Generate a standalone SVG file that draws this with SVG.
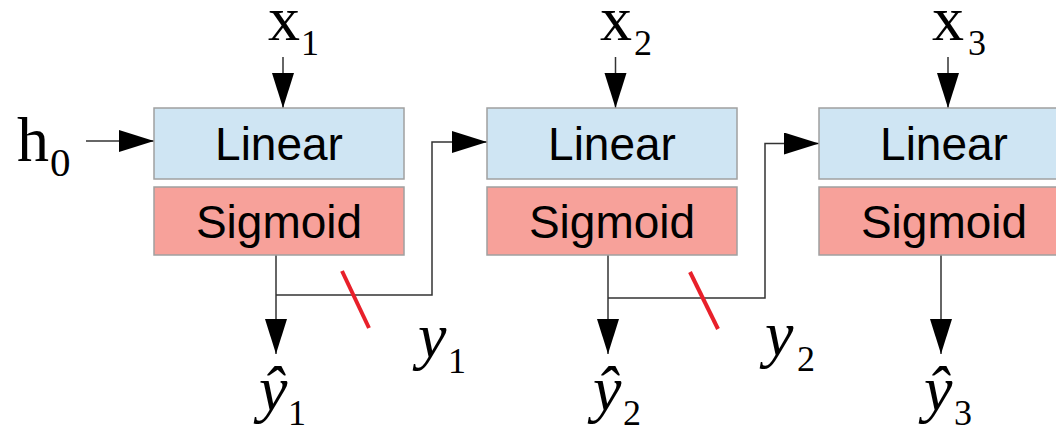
<svg xmlns="http://www.w3.org/2000/svg" width="1056" height="429" viewBox="0 0 1056 429">
<defs>
<style>
.lin{fill:#cfe5f3;stroke:#a0a0a0;stroke-width:1.5}
.sig{fill:#f7a19a;stroke:#a0a0a0;stroke-width:1.5}
.bt{font-family:"Liberation Sans",Arial,sans-serif;font-size:46px;fill:#000;text-anchor:middle}
.m{font-family:"Liberation Serif","Times New Roman",serif;font-size:64px;fill:#000}
.mi{font-family:"Liberation Serif","Times New Roman",serif;font-size:64px;font-style:italic;fill:#000}
.s{font-family:"Liberation Serif","Times New Roman",serif;font-size:36px;fill:#000}
.c{fill:none;stroke:#333;stroke-width:1.5}
.red{stroke:#e8202a;stroke-width:4;fill:none}
</style>
<marker id="ah" markerUnits="userSpaceOnUse" markerWidth="36" markerHeight="24" refX="35" refY="11" orient="auto">
<path d="M0,0 L35,11 L0,22 z" fill="#000"/>
</marker>
</defs>
<rect width="1056" height="429" fill="#fff"/>

<g id="connectors">
<line class="c" x1="283" y1="57" x2="283" y2="108" marker-end="url(#ah)"/>
<line class="c" x1="615.5" y1="57" x2="615.5" y2="108" marker-end="url(#ah)"/>
<line class="c" x1="948" y1="57" x2="948" y2="108" marker-end="url(#ah)"/>
<line class="c" x1="86" y1="141" x2="154" y2="141" marker-end="url(#ah)"/>
<line class="c" x1="276" y1="255" x2="276" y2="354" marker-end="url(#ah)"/>
<polyline class="c" points="276,295 432,295 432,142 487,142" marker-end="url(#ah)"/>
<line class="c" x1="608" y1="255" x2="608" y2="354" marker-end="url(#ah)"/>
<polyline class="c" points="608,298 765,298 765,143.5 819,143.5" marker-end="url(#ah)"/>
<line class="c" x1="941" y1="255" x2="941" y2="354" marker-end="url(#ah)"/>
<line class="red" x1="342" y1="271" x2="369" y2="328"/>
<line class="red" x1="690" y1="272" x2="718" y2="329"/>
</g>

<g id="linear1"><rect class="lin" x="154" y="108" width="250" height="71"/><text class="bt" x="279" y="160">Linear</text></g>
<g id="sigmoid1"><rect class="sig" x="154" y="187" width="250" height="68"/><text class="bt" x="279" y="238">Sigmoid</text></g>
<g id="linear2"><rect class="lin" x="487" y="108" width="250" height="71"/><text class="bt" x="612" y="160">Linear</text></g>
<g id="sigmoid2"><rect class="sig" x="487" y="187" width="250" height="68"/><text class="bt" x="612" y="238">Sigmoid</text></g>
<g id="linear3"><rect class="lin" x="819" y="108" width="250" height="71"/><text class="bt" x="944" y="160">Linear</text></g>
<g id="sigmoid3"><rect class="sig" x="819" y="187" width="250" height="68"/><text class="bt" x="944" y="238">Sigmoid</text></g>

<g id="x1"><text class="m" x="268" y="40">x</text><text class="s" x="301" y="55">1</text></g>
<g id="x2"><text class="m" x="600" y="40">x</text><text class="s" x="634" y="55">2</text></g>
<g id="x3"><text class="m" x="932" y="40">x</text><text class="s" x="968" y="55">3</text></g>
<g id="h0"><text class="m" x="17" y="161">h</text><text class="s" x="50" y="176" style="font-size:41px">0</text></g>
<g id="y1"><text class="mi" x="418" y="357">y</text><text class="s" x="448" y="373">1</text></g>
<g id="y2"><text class="mi" x="765" y="355">y</text><text class="s" x="797" y="371">2</text></g>
<g id="yhat1"><text class="mi" x="259" y="410">ŷ</text><text class="s" x="288" y="425">1</text></g>
<g id="yhat2"><text class="mi" x="593" y="410">ŷ</text><text class="s" x="623" y="425">2</text></g>
<g id="yhat3"><text class="mi" x="924" y="410">ŷ</text><text class="s" x="954" y="425">3</text></g>
</svg>
